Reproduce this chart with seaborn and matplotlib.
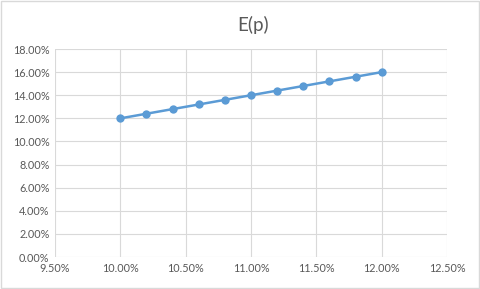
import matplotlib
matplotlib.use("Agg")
import matplotlib.pyplot as plt
import seaborn as sns
import pandas as pd
from matplotlib.ticker import FuncFormatter, MultipleLocator
from matplotlib.patches import Rectangle

# rate of return (%) and expected value E(p) (%)
rate = [10.0, 10.2, 10.4, 10.6, 10.8, 11.0, 11.2, 11.4, 11.6, 11.8, 12.0]
ep = [12.0, 12.4, 12.8, 13.2, 13.6, 14.0, 14.4, 14.8, 15.2, 15.6, 16.0]

df = pd.DataFrame({"rate": rate, "ep": ep})

sns.set_theme(style="white")
plt.rcParams["font.family"] = ["Lato", "DejaVu Sans"]

text_col = "#595959"
grid_col = "#D9D9D9"
blue = "#5B9BD5"

fig = plt.figure(figsize=(4.8, 2.89), dpi=100)
ax = fig.add_axes([0.1146, 0.1107, 0.8167, 0.7197])

sns.lineplot(data=df, x="rate", y="ep", ax=ax, color=blue, linewidth=1.8,
             marker="o", markersize=6, markeredgewidth=0, zorder=3)

ax.set_xlim(9.5, 12.5)
ax.set_ylim(0, 18)
ax.xaxis.set_major_locator(MultipleLocator(0.5))
ax.yaxis.set_major_locator(MultipleLocator(2))
fmt = FuncFormatter(lambda v, p: f"{v:.2f}%")
ax.xaxis.set_major_formatter(fmt)
ax.yaxis.set_major_formatter(fmt)

ax.grid(True, color=grid_col, linewidth=0.8)
ax.set_axisbelow(True)
for s in ax.spines.values():
    s.set_visible(False)
ax.tick_params(axis="both", length=0, labelsize=7.8, labelcolor=text_col, pad=4)
ax.set_xlabel("")
ax.set_ylabel("")

fig.text(0.528, 0.912, "E(p)", ha="center", va="center", fontsize=13.5, color=text_col)

fig.patches.append(Rectangle((0.002, 0.003), 0.996, 0.994, transform=fig.transFigure,
                             fill=False, edgecolor="#D9D9D9", linewidth=1))

fig.savefig("out.png", dpi=100, facecolor="white")
